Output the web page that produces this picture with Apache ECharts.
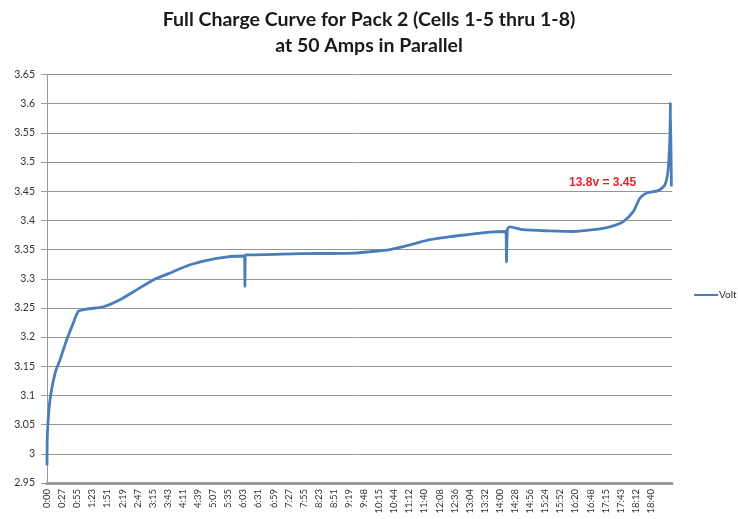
<!DOCTYPE html>
<html>
<head>
<meta charset="utf-8">
<script src="https://cdn.jsdelivr.net/npm/echarts@6/dist/echarts.min.js"></script>
<style>
  body { margin: 0; background: #fff; }
  #mychart { width: 738px; height: 519px; }
</style>
</head>
<body>
<div id="mychart"></div>
<script>
// tick labels of the time axis (one every ~28 min)
var timeLabels = ['0:00', '0:27', '0:55', '1:23', '1:51', '2:19', '2:47', '3:15', '3:43', '4:11',
  '4:39', '5:07', '5:35', '6:03', '6:31', '6:59', '7:27', '7:55', '8:23', '8:51',
  '9:19', '9:48', '10:15', '10:44', '11:12', '11:40', '12:08', '12:36', '13:04', '13:32',
  '14:00', '14:28', '14:56', '15:24', '15:52', '16:20', '16:48', '17:15', '17:43', '18:12', '18:40']

// position along the axis (in label steps) and cell voltage
var samplePos = [0, 0.03, 0.2, 0.53, 0.86, 1.3, 1.74, 2.07, 2.63, 3.73,
  4.83, 5.94, 7.04, 8.36, 9.47, 11.24, 13.0, 13.08, 13.11, 13.14,
  13.44, 16.75, 20.28, 22.05, 22.72, 24.04, 25.36, 26.69, 28.01, 29.34,
  30.33, 30.4, 30.44, 30.5, 30.66, 31.54, 33.31, 34.85, 36.18, 37.28,
  38.17, 38.83, 39.27, 39.72, 40.48, 40.93, 41.14, 41.26, 41.3, 41.36]
var volt = [2.98, 3.036, 3.093, 3.138, 3.161, 3.195, 3.224, 3.244, 3.248, 3.252,
  3.264, 3.281, 3.298, 3.312, 3.324, 3.335, 3.339, 3.339, 3.287, 3.341,
  3.341, 3.343, 3.344, 3.348, 3.350, 3.358, 3.367, 3.372, 3.376, 3.380,
  3.381, 3.381, 3.329, 3.385, 3.389, 3.384, 3.382, 3.381, 3.384, 3.389,
  3.398, 3.415, 3.438, 3.447, 3.451, 3.461, 3.486, 3.543, 3.601, 3.458]

var noteText = '13.8v = 3.45'
var notePos = [36.8, 3.464]

var seriesData = samplePos.map(function(p, i) { return [p, volt[i]] })

var option = {
  animation: false,
  backgroundColor: '#fff',
  title: {
    text: 'Full Charge Curve for Pack 2 (Cells 1-5 thru 1-8)\nat 50 Amps in Parallel',
    left: 'center',
    top: 2,
    padding: [5, 0, 5, 16],
    textStyle: {
      fontFamily: 'Lato',
      fontWeight: 'bold',
      fontSize: 19.5,
      lineHeight: 26,
      color: '#1a1a1a'
    }
  },
  legend: {
    left: 688,
    top: 285,
    itemWidth: 24,
    itemHeight: 3,
    itemGap: 2,
    data: ['Volt'],
    textStyle: { fontFamily: 'Lato', fontSize: 10, color: '#333', padding: [0, 0, 0, -4] }
  },
  grid: {
    left: 47,
    right: 66,
    top: 74.5,
    bottom: 36
  },
  xAxis: {
    type: 'value',
    min: 0,
    max: 41.4,
    interval: 1,
    axisLine: { lineStyle: { color: '#9a9a9a', width: 3 } },
    axisTick: { show: false },
    splitLine: { show: false },
    axisLabel: {
      rotate: 90,
      margin: 6,
      fontFamily: 'Lato',
      fontSize: 9.5,
      color: '#333',
      showMaxLabel: false,
      formatter: function(v) {
        return timeLabels[v] !== undefined ? timeLabels[v] : ''
      }
    }
  },
  yAxis: {
    type: 'value',
    min: 2.95,
    max: 3.65,
    interval: 0.05,
    axisLine: { show: true, lineStyle: { color: '#9a9a9a', width: 1 } },
    axisTick: { show: true, length: 6, lineStyle: { color: '#9a9a9a' } },
    splitLine: { lineStyle: { color: '#959595', width: 1 } },
    axisLabel: {
      margin: 12,
      fontFamily: 'Lato',
      fontSize: 10.5,
      color: '#333',
      formatter: function(v) { return +v.toFixed(2) + '' }
    }
  },
  series: [
    {
      name: 'Volt',
      type: 'line',
      symbol: 'none',
      smooth: 0.25,
      data: seriesData,
      lineStyle: { color: '#4a7ebb', width: 2.8 },
      itemStyle: { color: '#4a7ebb' },
      markPoint: {
        symbolSize: 0,
        silent: true,
        data: [{ coord: notePos, value: noteText }],
        label: {
          show: true,
          position: 'inside',
          formatter: noteText,
          color: '#e0252f',
          fontFamily: 'Liberation Sans',
          fontWeight: 'bold',
          fontSize: 12
        }
      }
    }
  ]
}

var myChart = echarts.init(document.getElementById('mychart'))
myChart.setOption(option)
</script>
</body>
</html>
